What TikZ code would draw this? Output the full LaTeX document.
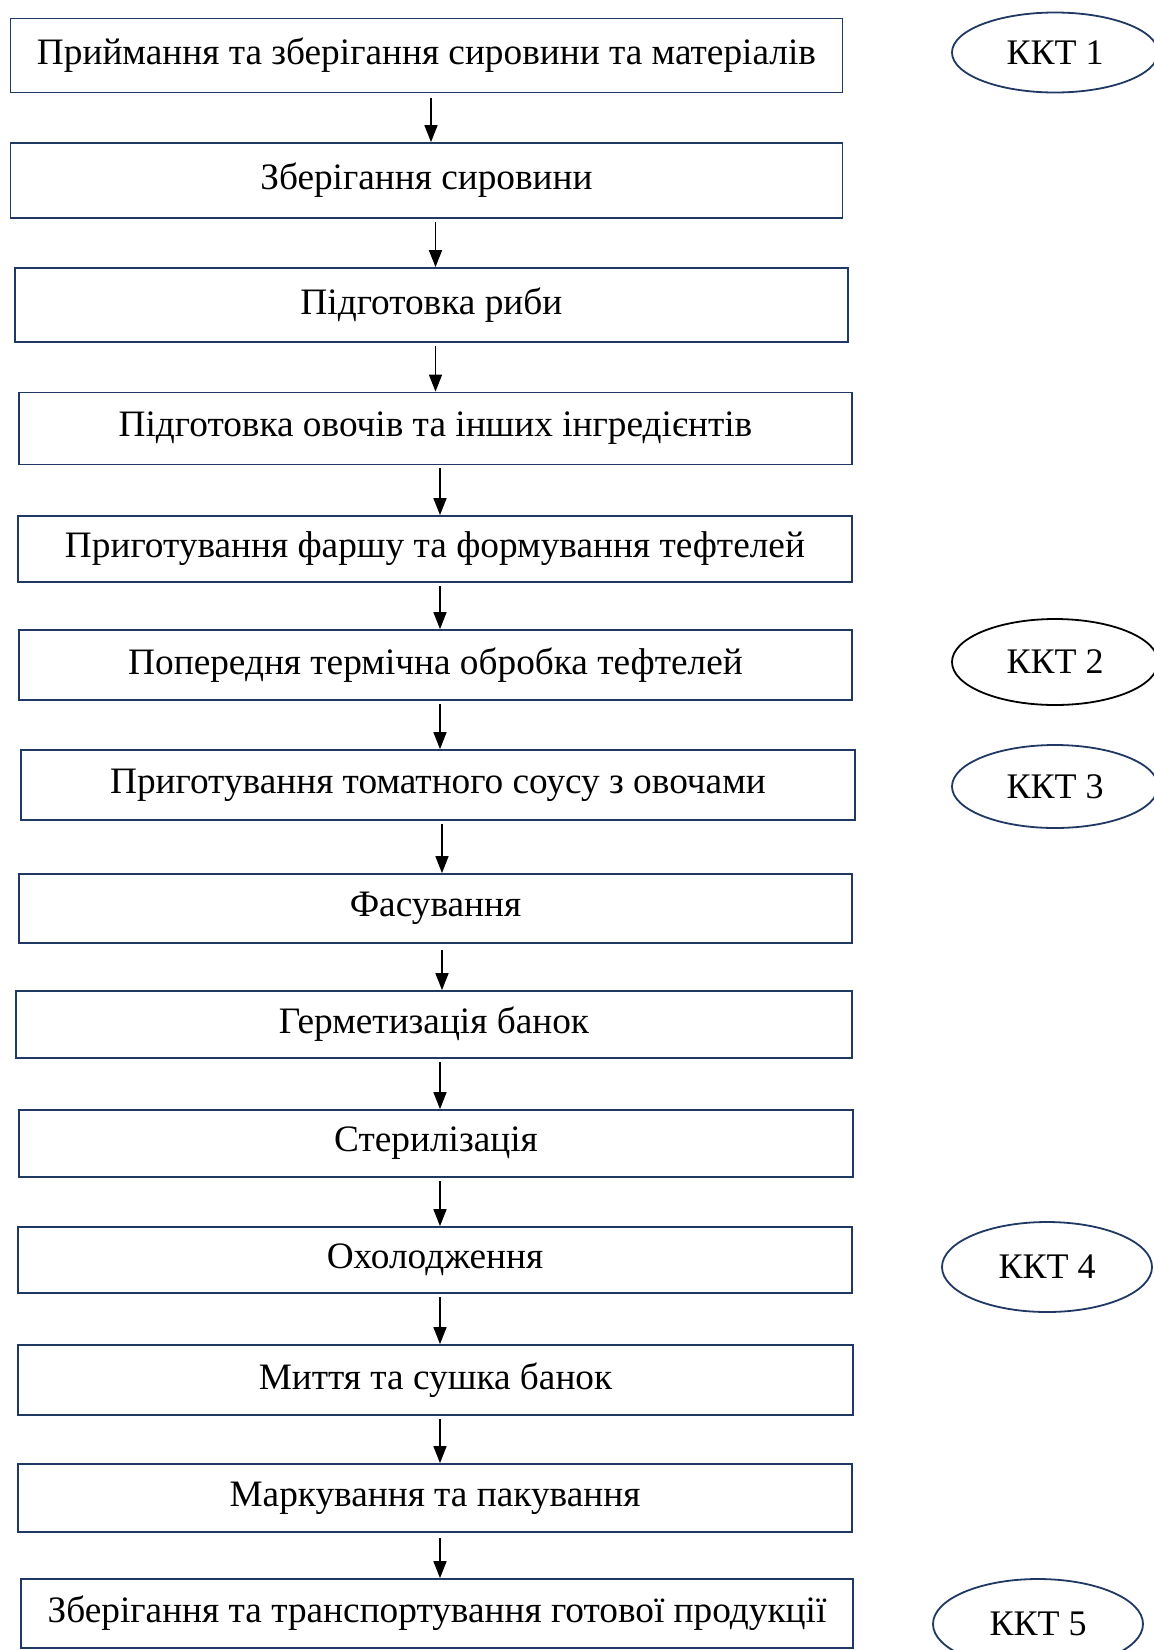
\documentclass[tikz,border=0pt]{standalone}
\usepackage{fontspec}
\setmainfont{Liberation Serif}
\usetikzlibrary{arrows.meta,shapes.geometric}
\definecolor{navy}{HTML}{203864}
\begin{document}
\begin{tikzpicture}[x=1pt,y=-1pt,
  stepbox/.style={draw=navy,line width=1.8pt,rectangle,inner sep=0pt,align=center,
     font=\fontsize{37.3}{43}\selectfont},
  kkt/.style={draw=navy,line width=1.8pt,ellipse,inner sep=0pt,
     font=\fontsize{36}{42}\selectfont},
  arr/.style={line width=1.6pt,-{Triangle[length=17pt,width=13pt]}}]
\useasboundingbox[fill=white] (0,0) rectangle (1154,1650);
\node[stepbox,minimum width=832pt,minimum height=74pt] (b1) at (426.5,55.5) {Приймання та зберігання сировини та матеріалів};
\node[stepbox,minimum width=832pt,minimum height=75pt] (b2) at (426.5,180.5) {Зберігання сировини};
\node[stepbox,minimum width=833pt,minimum height=74pt] (b3) at (431.4,305) {Підготовка риби};
\node[stepbox,minimum width=833pt,minimum height=72pt] (b4) at (435.5,428.5) {Підготовка овочів та інших інгредієнтів};
\node[stepbox,minimum width=834pt,minimum height=66pt] (b5) at (435,549) {Приготування фаршу та формування тефтелей};
\node[stepbox,minimum width=833pt,minimum height=70pt] (b6) at (435.5,665) {Попередня термічна обробка тефтелей};
\node[stepbox,minimum width=834pt,minimum height=70pt] (b7) at (438,785) {Приготування томатного соусу з овочами};
\node[stepbox,minimum width=833pt,minimum height=69pt] (b8) at (435.5,908.5) {Фасування};
\node[stepbox,minimum width=836pt,minimum height=67pt] (b9) at (434,1024.5) {Герметизація банок};
\node[stepbox,minimum width=834pt,minimum height=67pt] (b10) at (436,1143.5) {Стерилізація};
\node[stepbox,minimum width=834pt,minimum height=66pt] (b11) at (435,1260) {Охолодження};
\node[stepbox,minimum width=835pt,minimum height=70pt] (b12) at (435.5,1380) {Миття та сушка банок};
\node[stepbox,minimum width=834pt,minimum height=68pt] (b13) at (435,1498) {Маркування та пакування};
\node[stepbox,minimum width=832pt,minimum height=69pt] (b14) at (437,1613.5) {Зберігання та транспортування готової продукції};
\node[kkt,minimum width=206pt,minimum height=80pt] (k1) at (1055,52.5) {ККТ 1};
\node[kkt,draw=black,minimum width=206pt,minimum height=86pt] (k2) at (1055,662) {ККТ 2};
\node[kkt,minimum width=206pt,minimum height=83pt] (k3) at (1055,786.5) {ККТ 3};
\node[kkt,minimum width=210pt,minimum height=90pt] (k4) at (1047,1267) {ККТ 4};
\node[kkt,minimum width=210pt,minimum height=90pt] (k5) at (1038,1624) {ККТ 5};
\coordinate (x1) at (431,0);
\coordinate (x2) at (435.5,0);
\coordinate (x3) at (440,0);
\coordinate (x4) at (442,0);
\draw[arr] (b1.south -| x1) ++(0,5) -- (b2.north -| x1);
\draw[arr] (b2.south -| x2) ++(0,3) -- (b3.north -| x2);
\draw[arr] (b3.south -| x2) ++(0,3) -- (b4.north -| x2);
\draw[arr] (b4.south -| x3) ++(0,3) -- (b5.north -| x3);
\draw[arr] (b5.south -| x3) ++(0,3) -- (b6.north -| x3);
\draw[arr] (b6.south -| x3) ++(0,3) -- (b7.north -| x3);
\draw[arr] (b7.south -| x4) ++(0,3) -- (b8.north -| x4);
\draw[arr] (b8.south -| x4) ++(0,6) -- (b9.north -| x4);
\draw[arr] (b9.south -| x3) ++(0,3) -- (b10.north -| x3);
\draw[arr] (b10.south -| x3) ++(0,3) -- (b11.north -| x3);
\draw[arr] (b11.south -| x3) ++(0,3) -- (b12.north -| x3);
\draw[arr] (b12.south -| x3) ++(0,3) -- (b13.north -| x3);
\draw[arr] (b13.south -| x3) ++(0,5) -- (b14.north -| x3);
\end{tikzpicture}
\end{document}
